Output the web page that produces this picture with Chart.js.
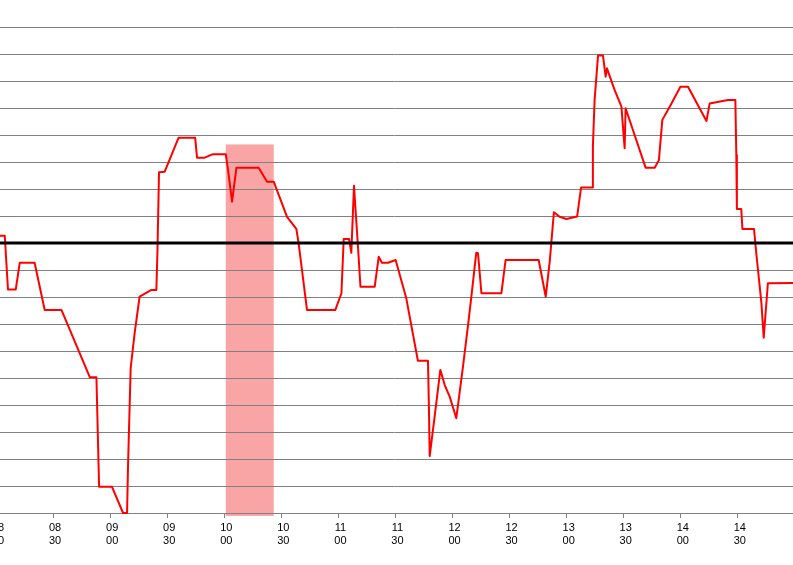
<!DOCTYPE html>
<html>
<head>
<meta charset="utf-8">
<script src="https://cdn.jsdelivr.net/npm/chart.js@4/dist/chart.umd.min.js"></script>
<style>
  html, body { margin: 0; padding: 0; background: #fff; overflow: hidden; }
  #wrap { position: absolute; left: -4px; top: 0; width: 797px; height: 565px; }
</style>
</head>
<body>
<div id="wrap"><canvas id="myChart" width="797" height="565"></canvas></div>
<script>
// time axis: minutes after 08:00
const startHour = 8;
const timeMin = 0;
const timeMax = 419;
const tickStep = 30;

// value axis
const valueMin = 0;
const valueMax = 19;
const refValue = 10;

// red series (minutes after 08:00, value)
const times = [0, 4.6, 6.3, 10.4, 12.5, 20.3, 25.6, 34.4, 49.3, 52.8,
    54.2, 61.0, 66.8, 68.9, 69.4, 70.8, 72.9, 75.5, 81.7, 84.3,
    84.9, 85.7, 88.7, 96.0, 104.7, 105.7, 109.7, 114.1, 120.8, 122.0,
    124.1, 126.4, 138.1, 142.5, 146.0, 153.0, 157.9, 159.1, 163.5, 178.4,
    181.6, 182.8, 185.6, 186.8, 188.2, 190.3, 191.6, 199.1, 201.2, 202.9,
    206.1, 210.1, 215.7, 221.8, 227.1, 227.6, 228.0, 230.6, 233.6, 235.9,
    238.5, 242.0, 245.5, 248.5, 250.2, 252.5, 253.4, 255.2, 265.7, 267.9,
    285.3, 289.0, 291.1, 293.3, 296.3, 299.9, 305.5, 307.6, 313.5, 313.8,
    314.7, 316.5, 319.1, 320.5, 321.2, 325.2, 328.8, 330.0, 330.5, 331.0,
    341.5, 346.3, 348.5, 350.3, 354.2, 359.8, 363.8, 373.5, 375.2, 384.8,
    388.7, 389.2, 389.5, 391.8, 392.4, 398.5, 399.7, 402.4, 403.6, 405.8,
    419];
const values = [10.27, 10.27, 8.28, 8.28, 9.27, 9.27, 7.52, 7.52, 5.03, 5.03,
    0.97, 0.97, 0, 0, 1.71, 5.37, 6.67, 8.01, 8.26, 8.26,
    9.74, 12.62, 12.64, 13.9, 13.9, 13.16, 13.16, 13.29, 13.29, 12.70,
    11.53, 12.79, 12.79, 12.27, 12.27, 10.97, 10.52, 9.99, 7.52, 7.52,
    8.14, 10.15, 10.15, 9.64, 12.12, 9.86, 8.38, 8.38, 9.49, 9.27,
    9.27, 9.37, 7.95, 5.64, 5.64, 3.89, 2.11, 3.57, 5.30, 4.74,
    4.31, 3.51, 5.42, 7.15, 8.20, 9.64, 9.62, 8.14, 8.14, 9.37,
    9.37, 8.01, 9.31, 11.14, 10.97, 10.89, 10.98, 12.06, 12.06, 13.57,
    15.30, 16.94, 16.94, 16.16, 16.47, 15.67, 15.05, 13.94, 13.51, 14.99,
    12.79, 12.79, 13.07, 14.56, 15.05, 15.79, 15.79, 14.52, 15.17, 15.30,
    15.30, 13.26, 11.26, 11.26, 10.52, 10.52, 9.62, 7.77, 6.49, 8.51,
    8.52];

// shaded period
const bandStart = 120.8;
const bandEnd = 146.0;
const bandTop = 13.65;
const bandBottom = -0.11;

function pad2(n) {
    return String(n).padStart(2, '0');
}

// Draws the shaded period under the grid lines
const bandPlugin = {
    id: 'band',
    beforeDraw(chart) {
        const x = chart.scales.x, y = chart.scales.y;
        const ctx = chart.ctx;
        const x0 = x.getPixelForValue(bandStart), x1 = x.getPixelForValue(bandEnd);
        const y0 = y.getPixelForValue(bandTop), y1 = y.getPixelForValue(bandBottom);
        ctx.save();
        ctx.fillStyle = '#f9a5a5';
        ctx.fillRect(x0, y0, x1 - x0, y1 - y0);
        ctx.restore();
    }
};

const ctx = document.getElementById('myChart').getContext('2d');
const chart = new Chart(ctx, {
    type: 'line',
    data: {
        datasets: [{
            label: 'Reference',
            data: [{x: timeMin, y: refValue}, {x: timeMax, y: refValue}],
            borderColor: '#000000',
            borderWidth: 3,
            pointRadius: 0,
            order: 0
        }, {
            label: 'Series',
            data: times.map((t, i) => ({x: t, y: values[i]})),
            borderColor: '#ff0000',
            borderWidth: 2,
            borderJoinStyle: 'round',
            pointRadius: 0,
            tension: 0,
            clip: false,
            order: 1
        }]
    },
    options: {
        responsive: false,
        animation: false,
        events: [],
        layout: { padding: 0, autoPadding: false },
        plugins: {
            legend: { display: false },
            tooltip: { enabled: false }
        },
        scales: {
            x: {
                type: 'linear',
                min: timeMin,
                max: timeMax,
                afterBuildTicks: (scale) => {
                    scale.ticks = scale.ticks.filter(t => t.value % tickStep === 0);
                },
                afterFit: (scale) => {
                    scale.height = 52;
                    scale.paddingLeft = 0;
                    scale.paddingRight = 0;
                },
                ticks: {
                    stepSize: tickStep,
                    autoSkip: false,
                    maxRotation: 0,
                    padding: 3,
                    labelOffset: 2,
                    color: '#000000',
                    font: { family: 'Liberation Sans', size: 11, lineHeight: 1.2 },
                    callback: (v) => [pad2(startHour + Math.floor(v / 60)), pad2(v % 60)]
                },
                grid: {
                    drawOnChartArea: false,
                    drawTicks: true,
                    tickLength: 5,
                    color: '#808080'
                },
                border: { color: '#808080', width: 1 }
            },
            y: {
                min: valueMin,
                max: valueMax,
                afterBuildTicks: (scale) => {
                    scale.ticks = scale.ticks.filter(t => t.value < valueMax);
                },
                afterFit: (scale) => { scale.width = 0; },
                ticks: { display: false, stepSize: 1 },
                grid: {
                    drawTicks: false,
                    color: '#808080',
                    lineWidth: 1
                },
                border: { display: false }
            }
        }
    },
    plugins: [bandPlugin]
});
</script>
</body>
</html>
